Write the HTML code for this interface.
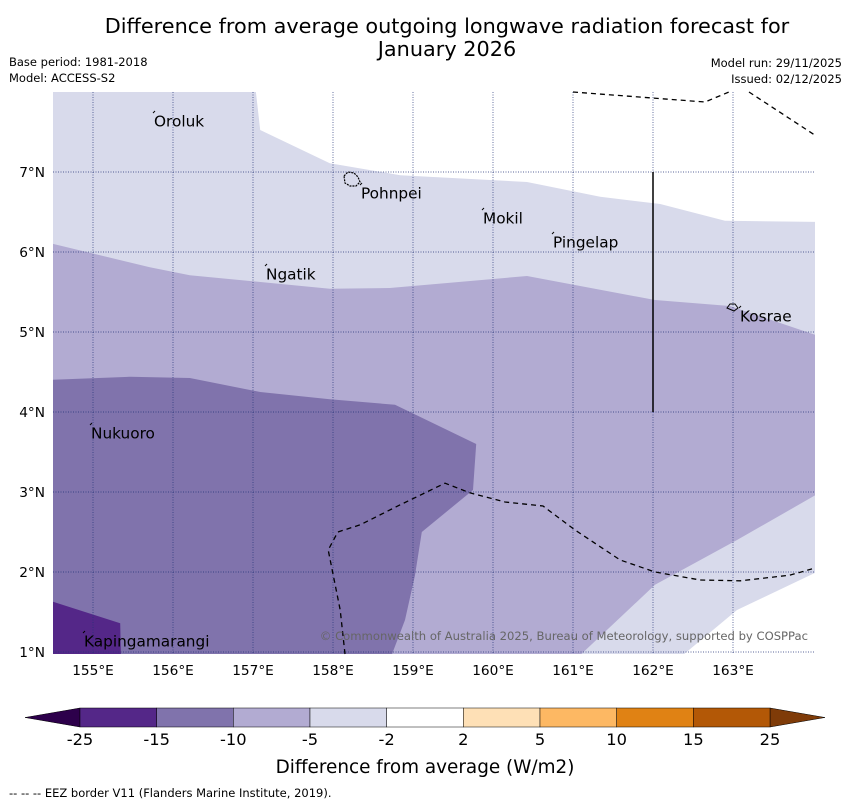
<!DOCTYPE html>
<html><head><meta charset="utf-8"><style>
body{margin:0;background:#fff;font-family:"DejaVu Sans","Liberation Sans",sans-serif}
svg text{font-family:"DejaVu Sans","Liberation Sans",sans-serif}
</style></head><body>
<svg id="s" width="850" height="804" xmlns="http://www.w3.org/2000/svg">
<text x="447" y="33" font-size="20.8" text-anchor="middle">Difference from average outgoing longwave radiation forecast for</text>
<text x="447" y="56" font-size="20.8" text-anchor="middle">January 2026</text>
<text x="9" y="66" font-size="11.5">Base period: 1981-2018</text>
<text x="9" y="82" font-size="11.5">Model: ACCESS-S2</text>
<text x="842" y="67" font-size="11.5" text-anchor="end">Model run: 29/11/2025</text>
<text x="842" y="83" font-size="11.5" text-anchor="end">Issued: 02/12/2025</text>
<defs><clipPath id="cp"><rect x="53" y="92" width="762" height="562"/></clipPath></defs>
<g id="map" clip-path="url(#cp)"></g>
<g id="axes"></g>
<g id="cbar"></g>
<text x="425" y="773" font-size="18.4" text-anchor="middle">Difference from average (W/m2)</text>
<text x="9" y="797" font-size="11.5">--  --  -- EEZ border V11 (Flanders Marine Institute, 2019).</text>
</svg>
<script>
const lonTicks=[155,156,157,158,159,160,161,162,163];
const latTicks=[1,2,3,4,5,6,7];
const levels=[-25,-15,-10,-5,-2,2,5,10,15,25];
const levelColors=["#542788","#8073ac","#b2abd2","#d8daeb","#ffffff","#fee0b6","#fdb863","#e08214","#b35806"];
const whiteTop=[[157.025,8.1],[157.09,7.525],[157.96,7.11],[158.84,6.96],[160.425,6.875],[161.34,6.69],[162.09,6.6],[162.9,6.39],[164.1,6.375],[164.1,8.1]];
const midRegion=[[154.4,6.125],[155.71,5.81],[156.21,5.71],[157.96,5.54],[158.71,5.55],[160.425,5.7],[162.025,5.4],[162.96,5.325],[164.1,4.94],[164.1,3.0],[163.05,2.4],[162.025,1.84],[161.025,0.9],[154.4,0.9]];
const darkRegion=[[154.4,4.4],[155.46,4.44],[156.21,4.425],[157.09,4.25],[157.96,4.16],[158.775,4.09],[159.79,3.6],[159.75,3.025],[159.11,2.5],[159.025,1.96],[158.9,1.4],[158.71,0.9],[154.4,0.9]];
const darkestRegion=[[154.4,1.66],[155.34,1.36],[155.35,0.9],[154.4,0.9]];
const whiteBR=[[162.3,0.9],[163.05,1.525],[164.1,2.025],[164.1,0.9]];
const eezA=[[161.0,8.0],[162.65,7.875],[162.95,8.0]];
const eezB=[[163.2,8.0],[164.025,7.46]];
const eezC=[[158.15,0.975],[158.09,1.525],[157.94,2.275],[158.06,2.5],[158.34,2.59],[158.84,2.84],[159.4,3.11],[159.71,2.99],[160.15,2.875],[160.625,2.825],[161.025,2.525],[161.59,2.15],[162.025,2.0],[162.59,1.9],[163.09,1.89],[163.71,1.96],[164.025,2.05]];
const places=[["Oroluk",155.7625,7.6375],["Pohnpei",158.35,6.7375],["Mokil",159.875,6.425],["Pingelap",160.75,6.125],["Ngatik",157.1625,5.725],["Kosrae",163.0875,5.2],["Nukuoro",154.975,3.7375],["Kapingamarangi",154.8875,1.1375]];
const X=lon=>93+(lon-155)*80, Y=lat=>172-(lat-7)*80;
const NS="http://www.w3.org/2000/svg";
function mk(t,a,p){const e=document.createElementNS(NS,t);for(const k in a)e.setAttribute(k,a[k]);p.appendChild(e);return e;}
const map=document.getElementById('map'), axes=document.getElementById('axes'), cb=document.getElementById('cbar');
const bg=mk('rect',{x:53,y:92,width:762,height:562,fill:"#d8daeb"},map);


const pts=a=>a.map(p=>X(p[0])+","+Y(p[1])).join(" ");
[[whiteTop,"#ffffff","band-neutral-top"],[midRegion,"#b2abd2","band-minus5-to-minus10"],[darkRegion,"#8073ac","band-minus10-to-minus15"],[darkestRegion,"#542788","band-minus15-to-minus25"],[whiteBR,"#ffffff","band-neutral-bottom-right"]].forEach(r=>{
 const e=mk('polygon',{points:pts(r[0]),fill:r[1]},map);
 
 
});
lonTicks.forEach(l=>{
 const g=mk('line',{x1:X(l),x2:X(l),y1:92,y2:654,stroke:"#223377","stroke-width":0.7,"stroke-dasharray":"1,1.5"},axes);
 
 
 const t=mk('text',{x:X(l),y:675,"font-size":13.7,"text-anchor":"middle"},axes);t.textContent=l+"°E";
 
 
});
latTicks.forEach(l=>{
 const g=mk('line',{x1:53,x2:815,y1:Y(l),y2:Y(l),stroke:"#223377","stroke-width":0.7,"stroke-dasharray":"1,1.5"},axes);
 
 
 const t=mk('text',{x:45,y:Y(l)+5,"font-size":13.7,"text-anchor":"end"},axes);t.textContent=l+"°N";
 
 
});
[eezA,eezB,eezC].forEach(a=>{
 const e=mk('polyline',{points:pts(a),fill:"none",stroke:"#000","stroke-width":1.3,"stroke-dasharray":"5,4"},axes);
 
 
});
const vl=mk('line',{x1:X(162),x2:X(162),y1:Y(7),y2:Y(4),stroke:"#000","stroke-width":1.5},axes);


const isl1=mk('path',{d:"M344,176 l4,-4 l6,1 l4,4 l2,5 l-4,4 l-6,0 l-5,-3 z",fill:"none",stroke:"#000","stroke-width":1.2,"stroke-dasharray":"2,1"},axes);


const isl2=mk('path',{d:"M727,308 l3,-4 l5,0 l3,4 l-4,3 z",fill:"none",stroke:"#000","stroke-width":1},axes);


const tx=mk('text',{x:808,y:640,"font-size":11.6,fill:"#666","text-anchor":"end"},axes);
tx.textContent="© Commonwealth of Australia 2025, Bureau of Meteorology, supported by COSPPac";


places.forEach(p=>{
 const t=mk('text',{x:X(p[1]),y:Y(p[2])+5.5,"font-size":15.3},axes);t.textContent=p[0];
 
 
 const d=mk('line',{x1:X(p[1])-1,y1:Y(p[2])-8,x2:X(p[1])+1,y2:Y(p[2])-10,stroke:"#000","stroke-width":1},axes);
 
 
});
const cx0=80,cx1=770,cy=708,ch=19,n=levelColors.length,w=(cx1-cx0)/n;
const l1=mk('polygon',{points:`${cx0},${cy} ${cx0},${cy+ch} 25,${cy+ch/2}`,fill:"#2d004b",stroke:"#000","stroke-width":0.5},cb);


const l2=mk('polygon',{points:`${cx1},${cy} ${cx1},${cy+ch} 825,${cy+ch/2}`,fill:"#7f3b08",stroke:"#000","stroke-width":0.5},cb);


levelColors.forEach((c,i)=>{
 const r=mk('rect',{x:cx0+i*w,y:cy,width:w,height:ch,fill:c,stroke:"#000","stroke-width":0.5},cb);
 
 
});
levels.forEach((v,i)=>{
 const t=mk('text',{x:cx0+i*w,y:745,"font-size":16.3,"text-anchor":"middle"},cb);t.textContent=v;
 
 
});
</script>
</body></html>
